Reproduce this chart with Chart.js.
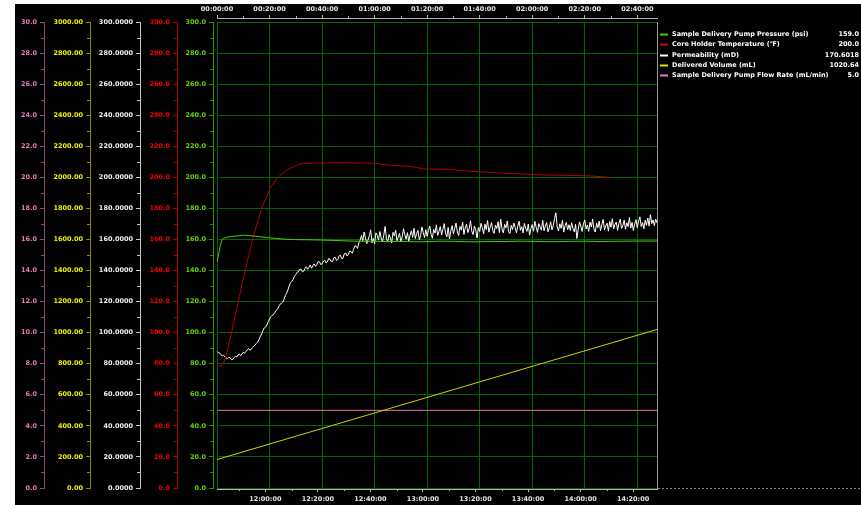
<!DOCTYPE html>
<html>
<head>
<meta charset="utf-8">
<script src="https://cdn.jsdelivr.net/npm/chart.js@4.4.1/dist/chart.umd.min.js"></script>
<style>
  html, body { margin: 0; padding: 0; background: #ffffff; }
  #wrap { position: absolute; left: 15px; top: 4px; width: 846px; height: 501px; background: #000000; }
  canvas { display: block; }
</style>
</head>
<body>
<div id="wrap"><canvas id="trend" width="846" height="501"></canvas></div>
<script>
// ---- run timing (minutes) ----
const runStartClockMin = 701.6;   // 11:41:36 wall clock at elapsed 0
const runSpanMin = 167.5;         // visible elapsed span

// ---- Sample Delivery Pump Pressure (psi) ----
const pressureTimes = [0, 0.4, 0.8, 1.2, 1.8, 2.5, 3.7, 5, 7, 10, 12, 14, 16.4, 20.2, 23, 26.6, 30, 34, 38, 44, 50.7,
  55, 60, 65, 70, 75, 80, 85, 90, 95, 100, 105, 110, 115, 120, 125, 130, 135, 140, 145, 150, 155, 160, 167.5];
const pressureValues = [145.5, 148.5, 152.0, 155.5, 159.5, 160.8, 161.4, 161.8, 162.2, 162.7, 162.6, 162.2, 161.8, 161.0, 160.6, 160.1, 159.9, 159.8, 159.7, 159.4, 159.0,
  158.8, 158.9, 158.6, 158.8, 158.5, 158.6, 158.9, 158.8, 158.5, 158.5, 158.7, 158.7, 158.9, 158.8, 158.6, 158.6, 158.8, 158.9, 158.7, 158.8, 158.9, 159.0, 159.0];

// ---- Core Holder Temperature (°F) ----
const temperatureTimes = [0, 1.8, 3, 5.6, 8.1, 10, 11.7, 13.8, 17, 20.2, 23.4, 26.6, 31.6, 38, 45, 55, 60.8, 62.7, 68.5, 74.7, 78.5,
  88.8, 95, 107.8, 115, 123, 135, 142, 149.7];
const temperatureValues = [78.5, 78.5, 82.4, 100.6, 120.0, 135.0, 146.8, 161.8, 180.0, 193.0, 200.4, 204.7, 208.6, 209.2, 209.3, 209.2, 209.0, 208.4, 207.5, 206.9, 205.4,
  205.2, 204.0, 202.8, 202.2, 201.6, 201.2, 200.9, 200.0];

// ---- Permeability (mD), logged every half minute from elapsed 0 ----
const permeabilityStepMin = 0.5;
const permeabilityValues = [
  87.8, 87.2, 86.9, 85.8, 85.1, 85.4, 84.6, 83.7, 83.2, 84.1,
  83.9, 82.6, 82.7, 83.9, 84.8, 84.3, 85.6, 86.2, 85.1, 86.3,
  87.4, 86.8, 87.9, 88.9, 89.8, 88.7, 89.2, 90.4, 91.3, 92.0,
  93.1, 94.0, 95.6, 97.5, 99.2, 101.4, 103.1, 103.6, 104.9, 107.1,
  108.8, 110.3, 111.2, 111.6, 112.9, 114.2, 115.0, 116.9, 118.3, 118.8,
  119.6, 121.5, 123.9, 125.4, 127.6, 130.1, 132.2, 133.0, 134.4, 136.3,
  137.5, 138.9, 139.3, 140.8, 140.9, 139.2, 139.6, 141.5, 142.4, 140.8,
  142.1, 143.6, 141.5, 143.0, 144.3, 142.7, 143.8, 145.9, 145.6, 143.9,
  144.2, 146.1, 146.7, 144.9, 145.5, 147.8, 147.4, 145.6, 145.9, 148.2,
  148.6, 146.4, 147.1, 149.5, 149.8, 147.6, 148.0, 150.9, 151.2, 149.3,
  150.4, 152.6, 152.3, 151.1, 153.7, 155.9, 155.6, 154.2, 157.8, 159.6,
  162.6, 159.1, 164.8, 161.1, 157.3, 159.7, 162.4, 166.2, 157.9, 160.8,
  157.4, 164.3, 162.7, 159.6, 165.1, 161.0, 158.6, 162.9, 168.4, 160.4,
  158.5, 163.2, 160.9, 157.7, 164.6, 162.3, 166.0, 159.2, 161.5, 163.9,
  158.4, 161.7, 166.9, 163.0, 160.2, 164.4, 158.9, 162.8, 165.6, 161.3,
  167.2, 160.6, 163.9, 165.8, 159.9, 162.4, 168.1, 164.5, 161.2, 166.3,
  162.0, 165.9, 168.7, 163.3, 160.8, 166.5, 164.1, 169.4, 162.6, 165.2,
  168.3, 162.9, 166.6, 170.2, 164.0, 161.7, 167.8, 160.3, 165.4, 168.9,
  163.6, 167.1, 170.6, 164.8, 162.5, 168.4, 166.0, 171.3, 163.2, 167.5,
  169.8, 164.4, 166.9, 172.0, 165.3, 163.1, 168.6, 166.2, 160.9, 167.7,
  165.1, 170.4, 167.6, 163.6, 169.9, 166.3, 172.2, 164.7, 167.9, 170.8,
  165.6, 163.9, 169.3, 167.0, 171.5, 164.4, 173.1, 166.8, 164.2, 169.7,
  167.4, 171.9, 165.0, 163.8, 169.1, 166.4, 170.6, 167.7, 164.3, 168.5,
  171.8, 165.9, 168.2, 164.1, 170.3, 167.3, 165.2, 169.9, 162.8, 167.0,
  169.6, 165.3, 171.7, 167.9, 164.6, 170.2, 168.1, 166.0, 172.3, 165.6,
  168.7, 170.9, 164.9, 167.4, 171.4, 166.1, 169.0, 173.5, 177.2, 168.2,
  165.4, 170.1, 167.2, 172.4, 164.7, 168.9, 171.0, 166.3, 169.5, 165.8,
  170.7, 167.1, 164.9, 169.8, 160.6, 166.4, 171.3, 168.5, 165.1, 170.0,
  172.6, 166.7, 169.3, 165.2, 171.1, 168.0, 173.2, 166.5, 164.8, 170.4,
  167.6, 171.8, 165.7, 169.4, 172.9, 166.2, 168.8, 170.5, 165.3, 171.6,
  167.9, 173.4, 166.8, 169.7, 171.2, 165.9, 170.3, 173.0, 167.1, 169.0,
  172.5, 166.6, 170.8, 168.2, 174.1, 167.4, 171.0, 165.8, 169.9, 172.7,
  167.5, 171.8, 174.6, 168.3, 170.9, 166.9, 172.4, 169.1, 173.8, 168.6,
  176.0, 170.2, 172.6, 168.9, 173.1, 170.6018
];

// ---- Delivered Volume (mL) ----
const volumeTimes = [0, 30, 60, 90, 120, 150, 167.5];
const volumeValues = [183.1, 333.2, 483.0, 633.3, 783.1, 933.0, 1020.64];

// ---- Sample Delivery Pump Flow Rate (mL/min) ----
const flowTimes = [0, 40, 80, 120, 160, 167.5];
const flowValues = [5.0, 5.0, 5.0, 5.0, 5.0, 5.0];

// ---- series labels ----
const seriesLabels = [
  'Sample Delivery Pump Pressure (psi)',
  'Core Holder Temperature (\u2109)',
  'Permeability (mD)',
  'Delivered Volume (mL)',
  'Sample Delivery Pump Flow Rate (mL/min)'
];

// ---- value axes: [min, max, labelled step, decimals] ----
const flowAxis = [0, 30, 2, 1];
const volumeAxis = [0, 3000, 200, 2];
const permAxis = [0, 300, 20, 4];
const tempAxis = [0, 300, 20, 1];
const pressureAxis = [0, 300, 20, 1];

const pairs = (xs, ys) => xs.map((x, i) => ({ x, y: ys[i] }));
const pad2 = n => String(n).padStart(2, '0');
const hms = m => pad2(Math.floor(m / 60)) + ':' + pad2(Math.round(m % 60)) + ':00';

Chart.defaults.font.family = '"DejaVu Sans", sans-serif';
Chart.defaults.font.size = 6.5;
Chart.defaults.font.weight = 'bold';

const GRID = '#006400';
const TIME_AXIS = '#b4b4b4';
const axisColors = {
  yFlow:  { text: '#ec7ab8', line: '#8e4a70' },
  yVol:   { text: '#f0f000', line: '#8c8c00' },
  yPerm:  { text: '#f0f0f0', line: '#c8c8c8' },
  yTemp:  { text: '#ee0000', line: '#b00000' },
  yPress: { text: '#66d400', line: '#2e8c00' }
};

function valueAxis(id, range, weight, width) {
  const [min, max, step, dec] = range;
  const c = axisColors[id];
  return {
    type: 'linear', position: 'left', weight, min, max,
    afterFit: s => { s.width = width; },
    border: { display: true, color: c.line, width: 1 },
    grid: { drawOnChartArea: false, drawTicks: true, tickLength: 4, tickColor: c.line },
    ticks: { stepSize: step, autoSkip: false, includeBounds: false, padding: 3, color: c.text,
      callback: v => Number(v).toFixed(dec) }
  };
}

const datasets = [
  { label: seriesLabels[0], data: pairs(pressureTimes, pressureValues), yAxisID: 'yPress',
    borderColor: '#52cc00', swatch: '#4ad000', decimals: 1 },
  { label: seriesLabels[1], data: pairs(temperatureTimes, temperatureValues), yAxisID: 'yTemp',
    borderColor: '#b80000', swatch: '#e00000', decimals: 1 },
  { label: seriesLabels[2], data: permeabilityValues.map((v, i) => ({ x: i * permeabilityStepMin, y: v })), yAxisID: 'yPerm',
    borderColor: '#ffffff', swatch: '#ffffff', decimals: 4 },
  { label: seriesLabels[3], data: pairs(volumeTimes, volumeValues), yAxisID: 'yVol',
    borderColor: '#d2d200', swatch: '#e6e600', decimals: 2 },
  { label: seriesLabels[4], data: pairs(flowTimes, flowValues), yAxisID: 'yFlow',
    borderColor: '#d878b0', swatch: '#f080c0', decimals: 1 }
].map(d => Object.assign({ xAxisID: 'xt', borderWidth: 1, pointRadius: 0, tension: 0, fill: false }, d));

// short intermediate tick marks between the labelled ticks of each axis
const minorTickSpec = {
  xt: { step: 10, len: 2, color: TIME_AXIS },
  xb: { step: 10, len: 2, color: TIME_AXIS },
  yFlow: { step: 1, len: 3, color: axisColors.yFlow.line },
  yVol: { step: 100, len: 3, color: axisColors.yVol.line },
  yPerm: { step: 10, len: 3, color: axisColors.yPerm.line },
  yTemp: { step: 10, len: 3, color: axisColors.yTemp.line },
  yPress: { step: 10, len: 3, color: axisColors.yPress.line }
};
const minorTicksPlugin = {
  id: 'minorTicks',
  afterDraw(chart) {
    const ctx = chart.ctx;
    ctx.save();
    ctx.lineWidth = 1;
    Object.entries(minorTickSpec).forEach(([id, spec]) => {
      const s = chart.scales[id];
      ctx.strokeStyle = spec.color;
      ctx.beginPath();
      for (let k = Math.ceil(s.min / spec.step); k * spec.step <= s.max; k++) {
        if (k % 2 === 0) continue;
        const p = Math.round(s.getPixelForValue(k * spec.step)) + 0.5;
        if (s.isHorizontal()) {
          const edge = s.position === 'top' ? s.bottom : s.top;
          const dir = s.position === 'top' ? -1 : 1;
          ctx.moveTo(p, edge);
          ctx.lineTo(p, edge + dir * spec.len);
        } else {
          ctx.moveTo(s.right, p);
          ctx.lineTo(s.right - spec.len, p);
        }
      }
      ctx.stroke();
    });
    ctx.restore();
  }
};

// right-hand panel: series names with their latest readings, plus frame lines
const panelPlugin = {
  id: 'readoutPanel',
  afterDraw(chart) {
    const { ctx, chartArea } = chart;
    ctx.save();
    ctx.strokeStyle = '#9a9a9a';
    ctx.lineWidth = 1;
    ctx.beginPath();
    ctx.moveTo(Math.round(chartArea.right) + 0.5, chartArea.top);
    ctx.lineTo(Math.round(chartArea.right) + 0.5, chartArea.bottom + 1);
    ctx.stroke();
    ctx.setLineDash([2, 2]);
    ctx.strokeStyle = '#8a8a8a';
    ctx.beginPath();
    ctx.moveTo(chartArea.right + 1, Math.round(chartArea.bottom) + 0.5);
    ctx.lineTo(chart.width, Math.round(chartArea.bottom) + 0.5);
    ctx.stroke();
    ctx.setLineDash([]);
    const x0 = chartArea.right + 3;
    ctx.font = 'bold 6.5px "DejaVu Sans", sans-serif';
    ctx.textBaseline = 'middle';
    chart.data.datasets.forEach((ds, i) => {
      const y = Math.round(chartArea.top + 12 + i * 10.25) + 0.5;
      ctx.strokeStyle = ds.swatch;
      ctx.lineWidth = 2;
      ctx.beginPath();
      ctx.moveTo(x0, y);
      ctx.lineTo(x0 + 8, y);
      ctx.stroke();
      ctx.fillStyle = '#ffffff';
      ctx.textAlign = 'left';
      ctx.fillText(ds.label, x0 + 12, y);
      ctx.textAlign = 'right';
      const last = ds.data[ds.data.length - 1].y;
      ctx.fillText(last.toFixed(ds.decimals), chart.width - 2, y);
    });
    ctx.restore();
  }
};

new Chart(document.getElementById('trend'), {
  type: 'line',
  data: { datasets },
  plugins: [minorTicksPlugin, panelPlugin],
  options: {
    responsive: false,
    animation: false,
    devicePixelRatio: 1,
    layout: { padding: { left: 0, top: 0, right: 204, bottom: 0 } },
    plugins: { legend: { display: false }, tooltip: { enabled: false }, title: { display: false } },
    scales: {
      // elapsed time on top
      xt: {
        type: 'linear', position: 'top', weight: 1, min: 0, max: runSpanMin,
        afterFit: s => { s.height = 14; },
        border: { display: true, color: TIME_AXIS },
        grid: { drawOnChartArea: true, drawTicks: true, tickLength: 3, color: GRID, tickColor: TIME_AXIS },
        ticks: { stepSize: 20, autoSkip: false, includeBounds: false, maxRotation: 0, padding: 2, color: '#e6e6e6',
          callback: v => hms(v) }
      },
      xTopGap: {
        type: 'linear', position: 'top', weight: 0, min: 0, max: runSpanMin,
        afterFit: s => { s.height = 4; },
        border: { display: false }, grid: { display: false }, ticks: { display: false }
      },
      // wall-clock time at the bottom
      xb: {
        type: 'linear', position: 'bottom', weight: 1, min: runStartClockMin, max: runStartClockMin + runSpanMin,
        afterFit: s => { s.height = 16; },
        border: { display: true, color: TIME_AXIS },
        grid: { drawOnChartArea: false, drawTicks: true, tickLength: 3, tickColor: TIME_AXIS },
        ticks: { stepSize: 20, autoSkip: false, includeBounds: false, maxRotation: 0, padding: 3, color: '#e6e6e6',
          callback: v => hms(v) }
      },
      xBottomGap: {
        type: 'linear', position: 'bottom', weight: 0, min: 0, max: runSpanMin,
        afterFit: s => { s.height = 1; },
        border: { display: false }, grid: { display: false }, ticks: { display: false }
      },
      yFlow: valueAxis('yFlow', flowAxis, 5, 29),
      yVol: valueAxis('yVol', volumeAxis, 4, 46),
      yPerm: valueAxis('yPerm', permAxis, 3, 50),
      yTemp: valueAxis('yTemp', tempAxis, 2, 37),
      yPress: valueAxis('yPress', pressureAxis, 1, 36),
      // horizontal grid of the plot, a few pixels away from the pressure axis
      yGrid: {
        type: 'linear', position: 'left', weight: 0, min: 0, max: 300,
        afterFit: s => { s.width = 4; },
        border: { display: false },
        grid: { drawOnChartArea: true, drawTicks: false, color: GRID },
        ticks: { display: false, stepSize: 20, autoSkip: false }
      }
    }
  }
});
</script>
</body>
</html>
